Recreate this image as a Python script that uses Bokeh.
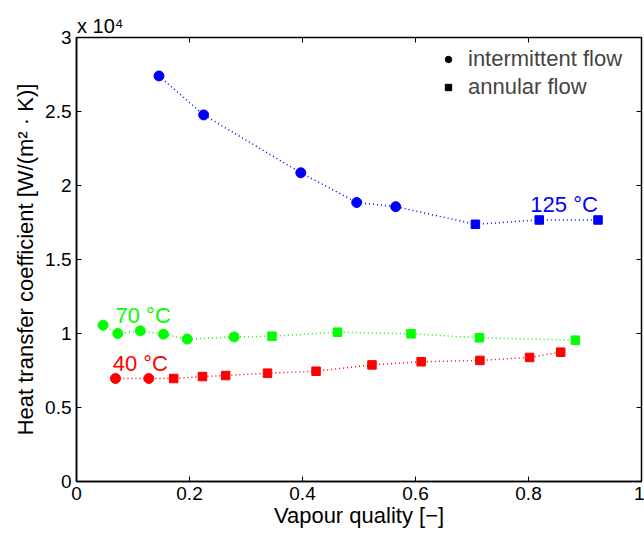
import math
from bokeh.plotting import figure
from bokeh.models import FixedTicker, Label, Legend, LegendItem, Range1d, LinearAxis
from bokeh.embed import file_html
from bokeh.resources import INLINE

# ---- data (x: vapour quality, y: heat transfer coefficient W/(m2 K)) ----
x125 = [0.146, 0.225, 0.397, 0.496, 0.565, 0.706, 0.819, 0.923]
y125 = [27400, 24770, 20860, 18850, 18570, 17380, 17670, 17670]
flow125 = ["i", "i", "i", "i", "i", "a", "a", "a"]

x70 = [0.047, 0.073, 0.113, 0.154, 0.196, 0.279, 0.346, 0.462, 0.592, 0.713, 0.883]
y70 = [10560, 10000, 10180, 9950, 9620, 9770, 9820, 10090, 9980, 9710, 9550]
flow70 = ["i", "i", "i", "i", "i", "i", "a", "a", "a", "a", "a"]

x40 = [0.069, 0.128, 0.172, 0.223, 0.264, 0.338, 0.424, 0.523, 0.610, 0.714, 0.802, 0.857]
y40 = [6960, 6960, 6960, 7090, 7160, 7320, 7450, 7880, 8090, 8180, 8380, 8740]
flow40 = ["i", "i", "a", "a", "a", "a", "a", "a", "a", "a", "a", "a"]

series = [
    ("125 °C", "#0000ff", x125, y125, flow125),
    ("70 °C", "#00ff00", x70, y70, flow70),
    ("40 °C", "#ff0000", x40, y40, flow40),
]

x_ticks = [0, 0.2, 0.4, 0.6, 0.8, 1.0]
x_tick_labels = ["0", "0.2", "0.4", "0.6", "0.8", "1"]
y_ticks = [0, 5000, 10000, 15000, 20000, 25000, 30000]
y_tick_labels = ["0", "0.5", "1", "1.5", "2", "2.5", "3"]
exponent_text = "x 10⁴"

FONT = "Liberation Sans"
TICK_FS = "19px"
LABEL_FS = "22px"

p = figure(width=644, height=533, output_backend="svg", toolbar_location=None,
           title=None,
           x_range=Range1d(0, 1), y_range=Range1d(0, 30000),
           min_border_left=76, min_border_right=3, min_border_top=37,
           min_border_bottom=52)
p.background_fill_color = "white"
p.border_fill_color = "white"
p.grid.visible = False
p.outline_line_color = "black"
p.outline_line_width = 1.5

for (name, color, xs, ys, fl) in series:
    p.line(xs, ys, line_color=color, line_dash="1 3", line_width=1.5)
    xi = [a for a, f in zip(xs, fl) if f == "i"]
    yi = [b for b, f in zip(ys, fl) if f == "i"]
    xa = [a for a, f in zip(xs, fl) if f == "a"]
    ya = [b for b, f in zip(ys, fl) if f == "a"]
    p.scatter(xi, yi, marker="circle", size=10, fill_color=color, line_color=color)
    p.scatter(xa, ya, marker="square", size=8.5, fill_color=color, line_color=color)

# inward ticks on the top and right edges (clipped to the frame)
p.scatter(x_ticks, [y_ticks[-1]] * len(x_ticks), marker="dash", size=10,
          angle=math.pi / 2, line_color="black", line_width=1)
p.scatter([x_ticks[-1]] * len(y_ticks), y_ticks, marker="dash", size=10,
          line_color="black", line_width=1)

# axes styling
for ax, ticks, labels in [(p.xaxis[0], x_ticks, x_tick_labels), (p.yaxis[0], y_ticks, y_tick_labels)]:
    ax.ticker = FixedTicker(ticks=ticks)
    ax.major_label_overrides = {t: l for t, l in zip(ticks, labels)}
    ax.major_tick_in = 5
    ax.major_tick_out = 0
    ax.minor_tick_line_color = None
    ax.axis_line_width = 1.5
    ax.major_tick_line_width = 1
    ax.major_label_text_font = FONT
    ax.major_label_text_font_size = TICK_FS
    ax.major_label_text_color = "black"
    ax.axis_label_text_font = FONT
    ax.axis_label_text_font_size = LABEL_FS
    ax.axis_label_text_font_style = "normal"
    ax.axis_label_text_color = "black"

p.xaxis[0].axis_label = "Vapour quality [−]"
p.xaxis[0].major_label_standoff = 5
p.xaxis[0].axis_label_standoff = 0
p.yaxis[0].axis_label = "Heat transfer coefficient [W/(m² · K)]"
p.yaxis[0].major_label_standoff = 5
p.yaxis[0].axis_label_standoff = 4

# exponent label above the y axis (a label-only axis on top)
exp_pos = 0.042
top = LinearAxis(ticker=FixedTicker(ticks=[exp_pos]),
                 major_label_overrides={exp_pos: exponent_text},
                 axis_line_color=None, major_tick_line_color=None,
                 minor_tick_line_color=None, major_tick_in=0, major_tick_out=0,
                 major_label_standoff=1, major_label_text_font=FONT,
                 major_label_text_font_size="20px", major_label_text_color="black")
p.add_layout(top, "above")

# temperature labels
p.add_layout(Label(x=0.863, y=18740, text="125 °C", text_align="center",
                   text_baseline="alphabetic",
                   text_font=FONT, text_font_size=LABEL_FS, text_color="#0000ff"))
p.add_layout(Label(x=0.118, y=11240, text="70 °C", text_align="center",
                   text_baseline="alphabetic",
                   text_font=FONT, text_font_size=LABEL_FS, text_color="#00ff00"))
p.add_layout(Label(x=0.113, y=8000, text="40 °C", text_align="center",
                   text_baseline="alphabetic",
                   text_font=FONT, text_font_size=LABEL_FS, text_color="#ff0000"))

# legend with black markers (dummy renderers without visible points)
nan = float("nan")
li = p.scatter([nan], [nan], marker="circle", size=10, fill_color="black", line_color="black")
la = p.scatter([nan], [nan], marker="square", size=9, fill_color="black", line_color="black")
legend = Legend(items=[LegendItem(label="intermittent flow", renderers=[li]),
                       LegendItem(label="annular flow", renderers=[la])],
                location=(364, 381), border_line_color=None,
                background_fill_alpha=0, label_text_font=FONT,
                label_text_font_size=LABEL_FS, spacing=2, glyph_width=16,
                glyph_height=22, label_height=22,
                label_standoff=12, margin=0, padding=0)
p.add_layout(legend)

open("out.html", "w").write(file_html(p, INLINE))
